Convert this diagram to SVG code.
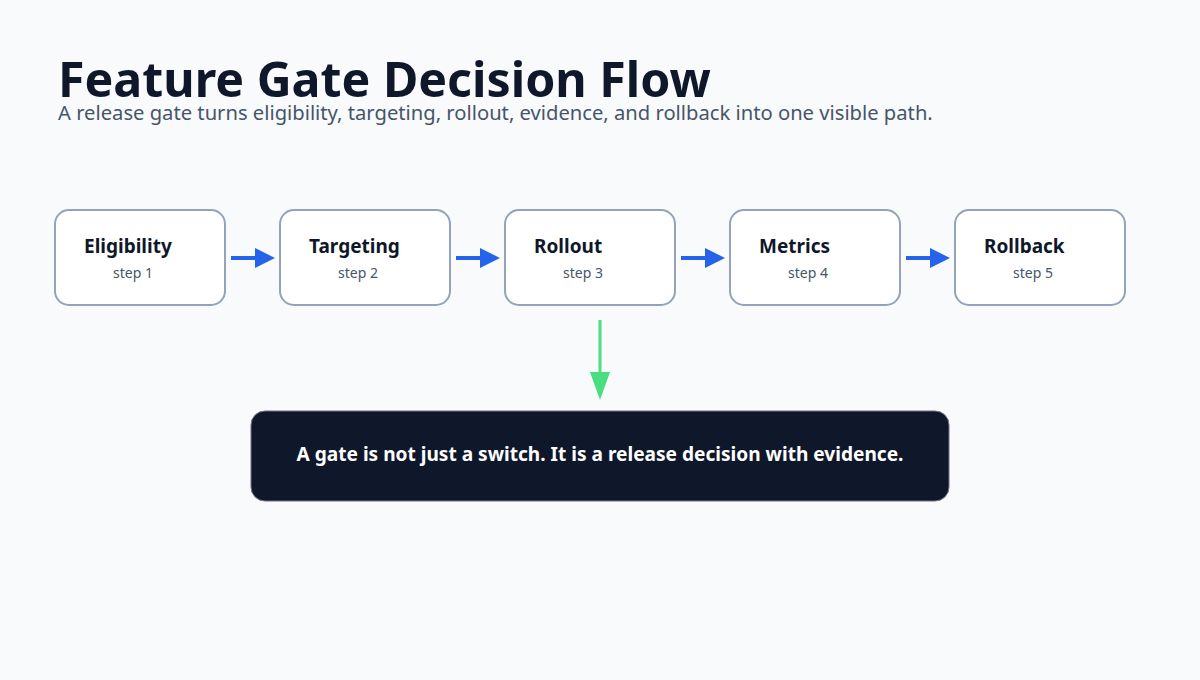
<svg xmlns="http://www.w3.org/2000/svg" width="1200" height="680" viewBox="0 0 1200 680">
<style>
.title{font-family:"Noto Sans","Open Sans",sans-serif;font-weight:700;font-size:48.3px;fill:#0f172a}
.sub{font-family:"Noto Sans","Open Sans",sans-serif;font-size:20.2px;fill:#475569}
.box{fill:#ffffff;stroke:#94a3b8;stroke-width:2}
.nt{font-family:"Noto Sans","Open Sans",sans-serif;font-weight:700;font-size:19px;fill:#0f172a}
.ns{font-family:"Noto Sans","Open Sans",sans-serif;font-size:14px;fill:#475569;text-anchor:middle}
.flow{stroke:#2563eb;stroke-width:4;fill:none}
.note{font-family:"Noto Sans","Open Sans",sans-serif;font-weight:700;font-size:19.1px;fill:#ffffff;text-anchor:middle}
</style>
<defs>
<marker id="ah" markerWidth="5" markerHeight="5" refX="0" refY="2.5" orient="auto" markerUnits="strokeWidth"><path d="M0,0 L5,2.5 L0,5 Z" fill="#2563eb"/></marker>
</defs>
<rect width="1200" height="680" fill="#f8fafc"/>
<text class="title" x="58" y="97">Feature Gate Decision Flow</text>
<text class="sub" x="58" y="120">A release gate turns eligibility, targeting, rollout, evidence, and rollback into one visible path.</text>
<g id="connectors">
<line class="flow" x1="231" y1="258" x2="255" y2="258" marker-end="url(#ah)"/>
<line class="flow" x1="456" y1="258" x2="480" y2="258" marker-end="url(#ah)"/>
<line class="flow" x1="681" y1="258" x2="705" y2="258" marker-end="url(#ah)"/>
<line class="flow" x1="906" y1="258" x2="930" y2="258" marker-end="url(#ah)"/>
<line x1="600" y1="320" x2="600" y2="373" stroke="#4ade80" stroke-width="3"/>
<path d="M590,372 L610,372 L600,400 Z" fill="#4ade80"/>
</g>
<g id="n1"><rect class="box" x="55" y="210" width="170" height="95" rx="14"/><text class="nt" x="84" y="253">Eligibility</text><text class="ns" x="133" y="278">step 1</text></g>
<g id="n2"><rect class="box" x="280" y="210" width="170" height="95" rx="14"/><text class="nt" x="309" y="253">Targeting</text><text class="ns" x="358" y="278">step 2</text></g>
<g id="n3"><rect class="box" x="505" y="210" width="170" height="95" rx="14"/><text class="nt" x="534" y="253">Rollout</text><text class="ns" x="583" y="278">step 3</text></g>
<g id="n4"><rect class="box" x="730" y="210" width="170" height="95" rx="14"/><text class="nt" x="759" y="253">Metrics</text><text class="ns" x="808" y="278">step 4</text></g>
<g id="n5"><rect class="box" x="955" y="210" width="170" height="95" rx="14"/><text class="nt" x="984" y="253">Rollback</text><text class="ns" x="1033" y="278">step 5</text></g>
<g id="note"><rect x="251" y="411" width="698" height="90" rx="14" fill="#0f172a" stroke="#64748b" stroke-width="1"/><text class="note" x="600" y="461">A gate is not just a switch. It is a release decision with evidence.</text></g>
</svg>
